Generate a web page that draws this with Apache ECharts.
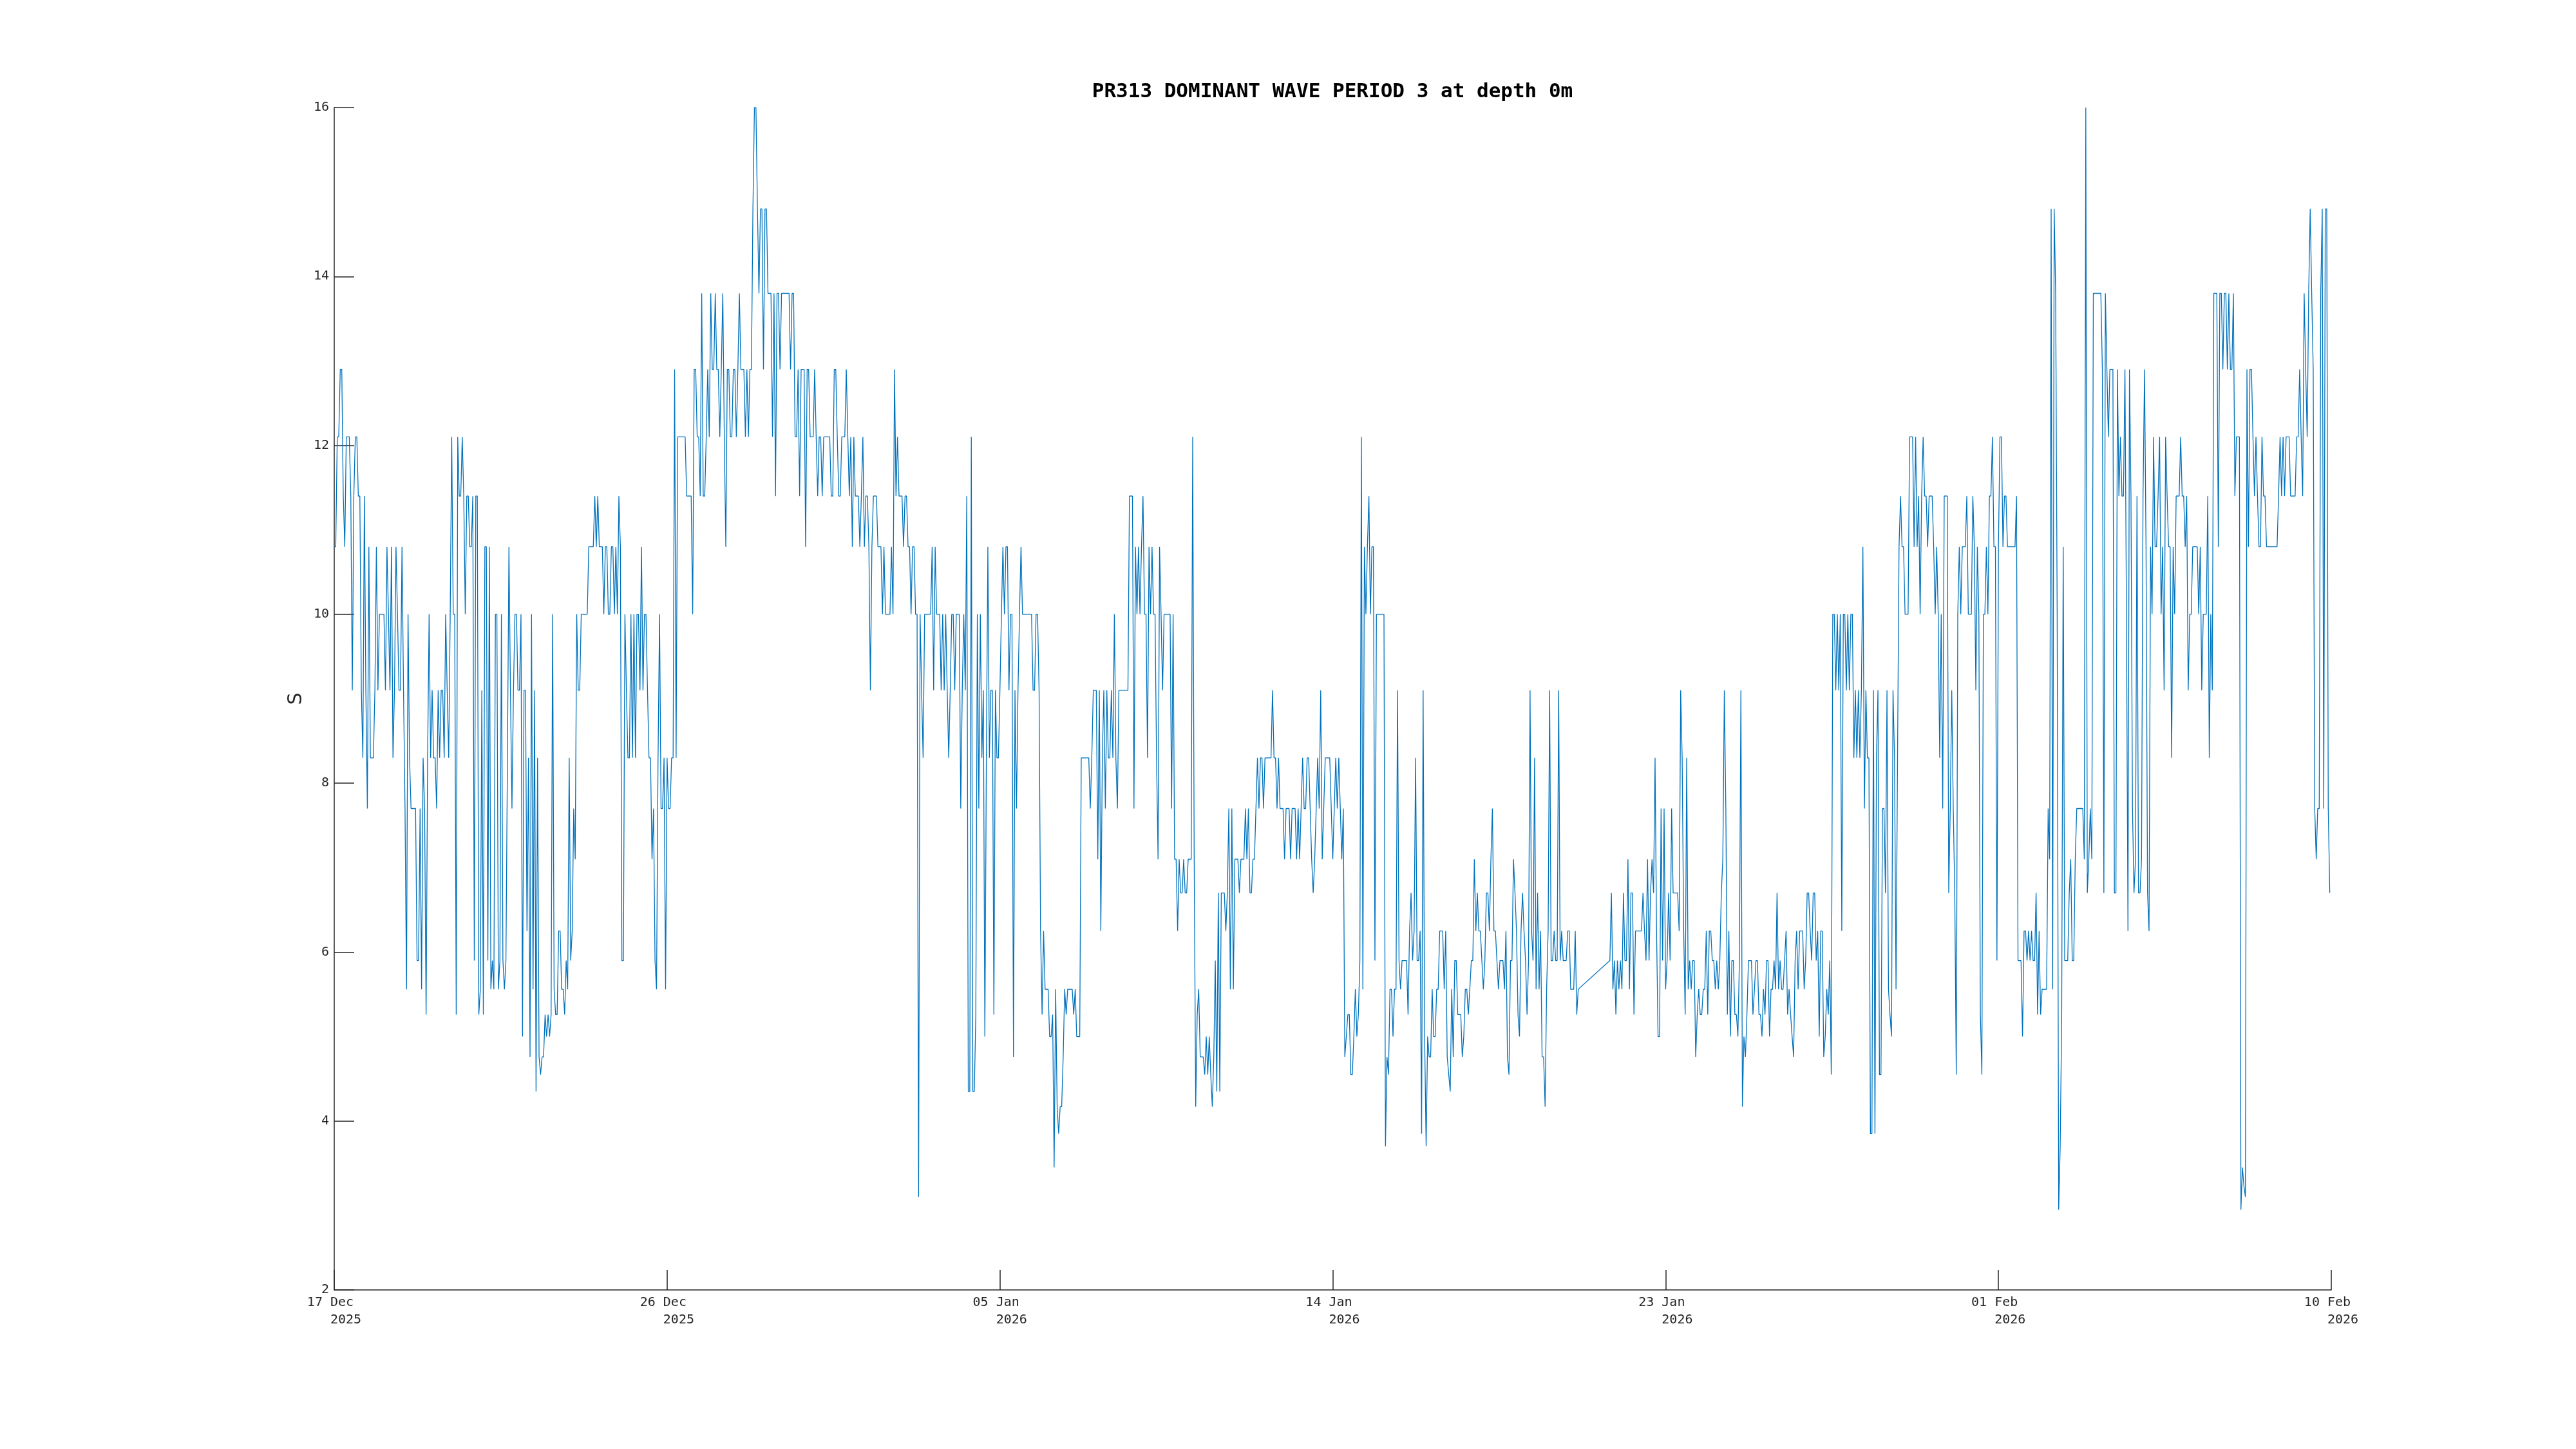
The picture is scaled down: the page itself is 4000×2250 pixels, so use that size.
<!DOCTYPE html>
<html><head><meta charset="utf-8">
<script src="https://cdn.jsdelivr.net/npm/echarts@6/dist/echarts.min.js"></script>
<style>html,body{margin:0;padding:0;background:#fff}#c{width:4000px;height:2250px}</style>
</head><body><div id="c"></div>
<script>
const chartTitle = 'PR313 DOMINANT WAVE PERIOD 3 at depth 0m';
const yLabel = 'S';
const yTicks = [2, 4, 6, 8, 10, 12, 14, 16];
const tickLabels = [['17 Dec','2025'],['26 Dec','2025'],['05 Jan','2026'],['14 Jan','2026'],['23 Jan','2026'],['01 Feb','2026'],['10 Feb','2026']];
const tickStepHours = 221;            // hours between date ticks
const spanHours = 1326;               // hours from first to last sample
// hourly samples, each chunk starts at the given hour offset from the first sample
const chunkStart = [0, 150, 296, 446, 596, 745, 847, 899, 1045, 1196];
const p0 = [10.8,10.8,12.1,12.1,12.9,12.9,11.4,10.8,12.1,12.1,
12.1,11.4,9.1,11.4,12.1,12.1,11.4,11.4,9.1,8.3,
11.4,9.1,7.7,10.8,8.3,8.3,8.3,9.1,10.8,9.1,
10,10,10,10,9.1,10.8,10,9.1,10.8,8.3,
9.1,10.8,10,9.1,9.1,10.8,9.1,7.7,5.56,10,
8.3,7.7,7.7,7.7,7.7,5.9,5.9,7.7,5.56,8.3,
7.7,5.26,8.3,10,8.3,9.1,8.3,8.3,7.7,9.1,
8.3,9.1,9.1,8.3,10,9.1,8.3,10,12.1,10,
10,5.26,12.1,11.4,11.4,12.1,11.4,10,11.4,11.4,
10.8,10.8,11.4,5.9,11.4,11.4,5.26,5.56,9.1,5.26,
10.8,10.8,5.9,10.8,5.56,5.9,5.56,10,10,5.56,
5.9,10,5.9,5.56,5.9,8.3,10.8,9.1,7.7,9.1,
10,10,9.1,9.1,10,5.0,9.1,9.1,6.25,8.3,
4.76,10,5.56,9.1,4.35,8.3,4.76,4.55,4.76,4.76,
5.26,5.0,5.26,5.0,5.26,10,5.56,5.26,5.26,6.25];
const p1 = [6.25,5.56,5.56,5.26,5.9,5.56,8.3,5.9,6.25,7.7,
7.1,10,9.1,9.1,10,10,10,10,10,10.8,
10.8,10.8,10.8,11.4,10.8,11.4,10.8,10.8,10.8,10,
10.8,10.8,10,10,10.8,10.8,10,10.8,10,11.4,
10.8,5.9,5.9,10,9.1,8.3,8.3,10,8.3,10,
8.3,10,10,9.1,10.8,9.1,10,10,9.1,8.3,
8.3,7.1,7.7,5.9,5.56,8.3,10,7.7,7.7,8.3,
5.56,8.3,7.7,7.7,8.3,8.3,12.9,8.3,12.1,12.1,
12.1,12.1,12.1,12.1,11.4,11.4,11.4,11.4,10,12.9,
12.9,12.1,12.1,11.4,13.8,11.4,11.4,12.1,12.9,12.1,
13.8,12.9,12.9,13.8,12.9,12.9,12.1,12.9,13.8,12.1,
10.8,12.9,12.9,12.1,12.1,12.9,12.9,12.1,12.9,13.8,
12.9,12.9,12.9,12.1,12.9,12.1,12.9,12.9,14.8,16,
16,14.8,13.8,14.8,14.8,12.9,14.8,14.8,13.8,13.8,
13.8,12.1,13.8,11.4,13.8,13.8];
const p2 = [12.9,13.8,13.8,13.8,13.8,13.8,13.8,12.9,13.8,13.8,
12.1,12.1,12.9,11.4,12.9,12.9,12.9,10.8,12.9,12.9,
12.1,12.1,12.1,12.9,12.1,11.4,12.1,12.1,11.4,12.1,
12.1,12.1,12.1,12.1,11.4,11.4,12.9,12.9,12.1,11.4,
11.4,12.1,12.1,12.1,12.9,12.1,11.4,12.1,10.8,12.1,
11.4,11.4,11.4,10.8,11.4,12.1,10.8,11.4,11.4,10.8,
9.1,10.8,11.4,11.4,11.4,10.8,10.8,10.8,10,10.8,
10,10,10,10,10.8,10,12.9,11.4,12.1,11.4,
11.4,11.4,10.8,11.4,11.4,10.8,10.8,10,10.8,10.8,
10,10,3.1,10,9.1,8.3,10,10,10,10,
10,10.8,9.1,10.8,10,10,10,9.1,10,9.1,
10,9.1,8.3,9.1,10,10,9.1,10,10,10,
7.7,9.1,10,9.1,11.4,4.35,4.35,12.1,4.35,4.35,
5.26,10,7.7,10,8.3,9.1,5.0,8.3,10.8,8.3,
9.1,9.1,5.26,9.1,8.3,8.3,9.1,10,10.8,10];
const p3 = [10.8,10.8,9.1,10,10,4.76,9.1,7.7,9.1,10,
10.8,10,10,10,10,10,10,10,9.1,9.1,
10,10,9.1,6.25,5.26,6.25,5.56,5.56,5.56,5.0,
5.0,5.26,3.45,5.56,4.17,3.85,4.17,4.17,4.76,5.56,
5.26,5.56,5.56,5.56,5.56,5.26,5.56,5.0,5.0,5.0,
8.3,8.3,8.3,8.3,8.3,8.3,7.7,8.3,9.1,9.1,
9.1,7.1,9.1,6.25,8.3,9.1,7.7,9.1,8.3,8.3,
9.1,8.3,10,8.3,7.7,9.1,9.1,9.1,9.1,9.1,
9.1,9.1,11.4,11.4,11.4,7.7,10.8,10,10.8,10,
10.8,11.4,10,10,8.3,10.8,10,10.8,10,10,
8.3,7.1,10.8,10,9.1,10,10,10,10,10,
7.7,10,7.1,7.1,6.25,7.1,6.7,6.7,7.1,6.7,
6.7,7.1,7.1,7.1,12.1,7.1,4.17,5.26,5.56,4.76,
4.76,4.76,4.55,5.0,4.55,5.0,4.55,4.17,4.76,5.9,
4.35,6.7,4.35,6.7,6.7,6.7,6.25,6.7,7.7,5.56];
const p4 = [7.7,5.56,7.1,7.1,7.1,6.7,7.1,7.1,7.1,7.7,
7.1,7.7,6.7,6.7,7.1,7.1,7.7,8.3,7.7,8.3,
8.3,7.7,8.3,8.3,8.3,8.3,8.3,9.1,8.3,8.3,
7.7,8.3,7.7,7.7,7.7,7.1,7.7,7.7,7.7,7.1,
7.7,7.7,7.7,7.1,7.7,7.1,7.7,8.3,7.7,7.7,
8.3,8.3,7.7,7.1,6.7,7.1,7.7,8.3,7.7,9.1,
7.1,7.7,8.3,8.3,8.3,8.3,7.7,7.1,7.7,8.3,
7.7,8.3,7.7,7.1,7.7,4.76,5.0,5.26,5.26,4.55,
4.55,5.0,5.56,5.0,5.26,5.9,12.1,5.56,10.8,10,
10.8,11.4,10,10.8,10.8,5.9,10,10,10,10,
10,10,3.7,4.76,4.55,5.56,5.56,5.0,5.56,5.56,
9.1,5.9,5.56,5.9,5.9,5.9,5.9,5.26,6.25,6.7,
5.9,6.25,8.3,5.9,5.9,6.25,3.85,9.1,5.0,3.7,
5.0,4.76,4.76,5.56,5.0,5.0,5.56,5.56,6.25,6.25,
6.25,5.56,6.25,4.76,4.55,4.35,5.56,4.76,5.9];
const p5 = [5.9,5.26,5.26,5.26,4.76,5.0,5.56,5.56,5.26,5.56,
5.9,5.9,7.1,6.25,6.7,6.25,6.25,5.9,5.56,5.9,
6.7,6.7,6.25,7.1,7.7,6.25,6.25,5.9,5.56,5.9,
5.9,5.9,5.56,6.25,4.76,4.55,5.9,5.9,7.1,6.7,
6.25,5.26,5.0,6.25,6.7,6.25,5.9,5.26,5.9,9.1,
6.25,5.9,8.3,5.56,6.7,5.56,6.25,4.76,4.76,4.17,
5.56,6.25,9.1,5.9,5.9,6.25,5.9,5.9,9.1,5.9,
6.25,5.9,5.9,5.9,6.25,6.25,5.56,5.56,5.56,6.25,
5.26,5.56];
const p6 = [5.9,6.7,5.56,5.9,5.26,5.9,5.56,5.9,5.56,6.7,
5.9,5.9,7.1,5.56,6.7,6.7,5.26,6.25,6.25,6.25,
6.25,6.25,6.7,6.25,5.9,7.1,5.9,6.7,7.1,6.7,
8.3,6.25,5.0,5.0,7.7,5.9,7.7,5.56,5.9,6.7,
5.9,7.7,6.7,6.7,6.7,6.7,6.25,9.1,8.3,6.25,
5.26,8.3];
const p7 = [5.56,5.9,5.56,5.9,5.9,4.76,5.26,5.56,5.26,5.26,
5.56,5.56,6.25,5.26,6.25,6.25,5.9,5.9,5.56,5.9,
5.56,5.9,6.7,7.1,9.1,7.7,5.26,6.25,5.0,5.9,
5.9,5.26,5.26,5.0,5.9,9.1,4.17,5.0,4.76,5.26,
5.9,5.9,5.9,5.26,5.56,5.9,5.9,5.26,5.26,5.0,
5.56,5.26,5.9,5.9,5.0,5.56,5.56,5.9,5.56,6.7,
5.56,5.9,5.56,5.56,5.9,6.25,5.26,5.56,5.26,5.0,
4.76,5.9,6.25,5.56,6.25,6.25,6.25,5.56,5.9,6.7,
6.7,6.25,5.9,6.7,6.7,5.9,6.25,5.0,6.25,6.25,
4.76,5.0,5.56,5.26,5.9,4.55,10,10,9.1,10,
9.1,10,6.25,10,10,9.1,10,9.1,10,10,
8.3,9.1,8.3,9.1,8.3,9.1,10.8,7.7,9.1,8.3,
8.3,3.85,3.85,9.1,3.85,8.3,9.1,4.55,4.55,7.7,
7.7,6.7,9.1,5.56,5.26,5.0,9.1,8.3,5.56,8.3,
10.8,11.4,10.8,10.8,10,10];
const p8 = [10,12.1,12.1,12.1,10.8,12.1,10.8,11.4,10,11.4,
12.1,11.4,11.4,10.8,11.4,11.4,11.4,10.8,10,10.8,
10,8.3,10,7.7,11.4,11.4,11.4,6.7,7.7,9.1,
7.7,6.7,4.55,10,10.8,10,10.8,10.8,10.8,11.4,
10,10,10,11.4,10.8,9.1,10.8,10,5.26,4.55,
10,10,10.8,10,11.4,11.4,12.1,10.8,10.8,5.9,
10.8,12.1,12.1,10.8,11.4,11.4,10.8,10.8,10.8,10.8,
10.8,10.8,11.4,5.9,5.9,5.9,5.0,6.25,6.25,5.9,
6.25,5.9,6.25,5.9,5.9,6.7,5.26,6.25,5.26,5.56,
5.56,5.56,5.56,7.7,7.1,14.8,5.56,14.8,13.8,10,
2.95,3.7,5.26,10.8,5.9,5.9,5.9,6.7,7.1,5.9,
5.9,7.1,7.7,7.7,7.7,7.7,7.7,7.1,16,6.7,
7.1,7.7,7.1,13.8,13.8,13.8,13.8,13.8,13.8,12.9,
6.7,13.8,12.9,12.1,12.9,12.9,12.9,6.7,6.7,12.9,
11.4,12.1,11.4,11.4,12.9,10,6.25,12.9,11.4,7.7,
6.7];
const p9 = [7.1,11.4,6.7,6.7,7.1,11.4,12.9,10.8,6.7,6.25,
10.8,10,12.1,10.8,10.8,11.4,12.1,10,10.8,9.1,
12.1,11.4,10.8,10.8,8.3,10.8,10,11.4,11.4,11.4,
12.1,11.4,11.4,10.8,11.4,9.1,10,10,10.8,10.8,
10.8,10.8,10,10.8,9.1,10,10,10,11.4,8.3,
10,9.1,13.8,13.8,13.8,10.8,13.8,13.8,12.9,13.8,
13.8,12.9,13.8,12.9,12.9,13.8,11.4,12.1,12.1,12.1,
2.95,3.45,3.23,3.1,12.9,10.8,12.9,12.9,12.1,11.4,
12.1,11.4,10.8,10.8,12.1,11.4,11.4,10.8,10.8,10.8,
10.8,10.8,10.8,10.8,10.8,11.4,12.1,11.4,12.1,11.4,
12.1,12.1,12.1,11.4,11.4,11.4,11.4,12.1,12.1,12.9,
12.1,11.4,13.8,12.9,12.1,13.8,14.8,13.8,12.9,7.7,
7.1,7.7,7.7,13.8,14.8,7.7,14.8,14.8,7.7,6.7];

const chunks = [p0, p1, p2, p3, p4, p5, p6, p7, p8, p9];
const seriesData = [];
chunks.forEach((arr, k) => arr.forEach((v, i) => seriesData.push([chunkStart[k] + i, v])));

const axisColor = '#262626';
const chart = echarts.init(document.getElementById('c'), null, {renderer: 'canvas'});
chart.setOption({
  animation: false,
  backgroundColor: '#ffffff',
  grid: {left: 519, right: 380, top: 167, bottom: 247, containLabel: false},
  xAxis: {
    type: 'value', min: 0, max: spanHours, interval: tickStepHours,
    axisLine: {show: true, lineStyle: {color: axisColor, width: 1.5}},
    axisTick: {show: true, inside: true, length: 31, lineStyle: {color: axisColor, width: 1.5}},
    splitLine: {show: false},
    axisLabel: {
      show: true, showMinLabel: true, showMaxLabel: true,
      fontFamily: 'DejaVu Sans Mono', fontSize: 20, color: axisColor, lineHeight: 27, margin: 6,
      formatter: function (v) {
        const t = tickLabels[Math.round(v / tickStepHours)];
        return t ? (t[0] + '\u00a0\n\u00a0\u00a0\u00a0' + t[1]) : '';
      }
    }
  },
  yAxis: {
    type: 'value', min: yTicks[0], max: yTicks[yTicks.length - 1], interval: yTicks[1] - yTicks[0],
    axisLine: {show: true, lineStyle: {color: axisColor, width: 1.5}},
    axisTick: {show: true, inside: true, length: 31, lineStyle: {color: axisColor, width: 1.5}},
    splitLine: {show: false},
    axisLabel: {show: true, showMinLabel: true, showMaxLabel: true,
      fontFamily: 'DejaVu Sans Mono', fontSize: 20, color: axisColor, margin: 8}
  },
  series: [{
    type: 'line', data: seriesData, symbol: 'none', showSymbol: false,
    lineStyle: {color: '#0072BD', width: 1.3}, silent: true
  }],
  graphic: [
    {type: 'text', x: 2069, y: 143, style: {text: chartTitle, font: 'bold 31px "DejaVu Sans Mono"', fill: '#000', textAlign: 'center', textVerticalAlign: 'middle'}},
    {type: 'text', x: 460, y: 1085, rotation: Math.PI / 2, style: {text: yLabel, font: '30px "DejaVu Sans"', fill: axisColor, textAlign: 'center', textVerticalAlign: 'middle'}}
  ]
});
</script>
</body></html>
